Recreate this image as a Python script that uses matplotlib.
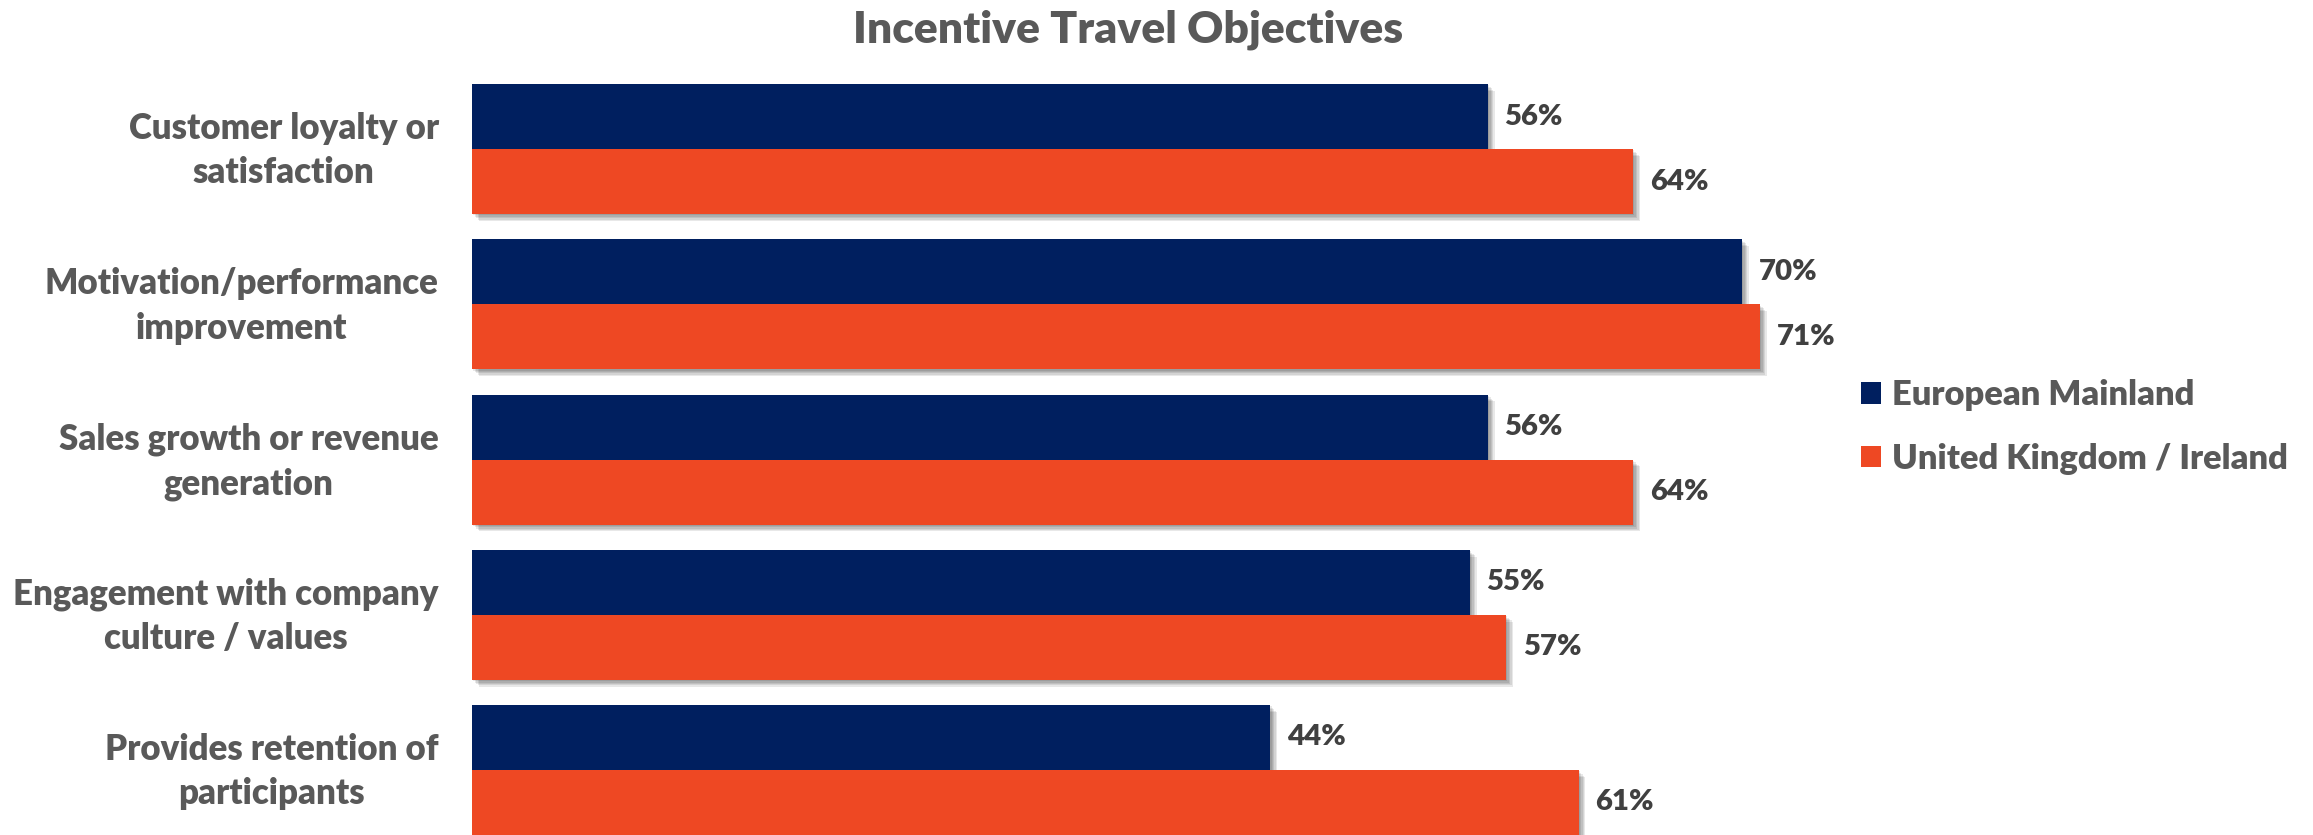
import matplotlib
matplotlib.use("Agg")
import matplotlib.pyplot as plt
from matplotlib import patheffects
from matplotlib.patches import Patch
from matplotlib.transforms import ScaledTranslation

# Survey data: share of respondents citing each objective
categories = [
    "Customer loyalty or\nsatisfaction",
    "Motivation/performance\nimprovement",
    "Sales growth or revenue\ngeneration",
    "Engagement with company\nculture / values",
    "Provides retention of\nparticipants",
]
european_mainland = [56, 70, 56, 55, 44]
uk_ireland = [64, 71, 64, 57, 61]
series_names = ["European Mainland", "United Kingdom / Ireland"]

NAVY = "#001F5F"
ORANGE = "#EE4823"
TEXT_GRAY = "#595959"
VALUE_GRAY = "#404040"
WEIGHT = "heavy"

plt.rcParams["font.family"] = ["Lato", "DejaVu Sans"]

W, H, DPI = 2313, 835, 100
fig = plt.figure(figsize=(W / DPI, H / DPI), dpi=DPI)
fig.patch.set_facecolor("white")

# axes geometry in pixels
ax_left, ax_right = 472, 2286
ax_top_px = 71.4
ax = fig.add_axes([ax_left / W, 0.0, (ax_right - ax_left) / W, 1 - ax_top_px / H])

bar_h = 0.4187
pos = list(range(len(categories)))

# soft drop shadow under each bar
shadow = [
    patheffects.SimplePatchShadow(offset=(d, -d), shadow_rgbFace="black", alpha=0.09)
    for d in (1.0, 2.0, 3.0, 4.0, 5.0)
] + [patheffects.Normal()]

bars_eu = ax.barh([p - bar_h / 2 for p in pos], european_mainland, height=bar_h,
                  color=NAVY, linewidth=0, zorder=2)
bars_uk = ax.barh([p + bar_h / 2 for p in pos], uk_ireland, height=bar_h,
                  color=ORANGE, linewidth=0, zorder=3)
for b in list(bars_eu) + list(bars_uk):
    b.set_path_effects(shadow)

# value labels at the end of each bar
for bars, vals in ((bars_eu, european_mainland), (bars_uk, uk_ireland)):
    for b, v in zip(bars, vals):
        ax.annotate(f"{v}%", xy=(v, b.get_y() + b.get_height() / 2),
                    xytext=(12, 0), textcoords="offset points",
                    ha="left", va="center", fontsize=21.2, fontweight=WEIGHT,
                    color=VALUE_GRAY, zorder=5)

ax.set_xlim(0, 100)
ax.set_ylim(4 + bar_h, -0.5)
ax.set_yticks(pos)
ax.tick_params(axis="y", length=0, pad=24)
ax.set_yticklabels(categories, fontsize=25, fontweight=WEIGHT, color=TEXT_GRAY,
                   linespacing=1.42)
# nudge the two-line category labels up a little
lift = ScaledTranslation(0, 5 / 72, fig.dpi_scale_trans)
for lab in ax.get_yticklabels():
    lab.set_multialignment("center")
    lab.set_transform(lab.get_transform() + lift)
ax.set_xticks([])
for s in ax.spines.values():
    s.set_visible(False)
ax.set_facecolor("none")

fig.text(1128 / W, 1 - 43 / H, "Incentive Travel Objectives", ha="center",
         va="baseline", fontsize=32, fontweight=WEIGHT, color=TEXT_GRAY)

handles = [Patch(facecolor=NAVY, edgecolor="none"),
           Patch(facecolor=ORANGE, edgecolor="none")]
leg = fig.legend(handles, series_names, loc="center left",
                 bbox_to_anchor=(1861 / W, 1 - 427 / H), frameon=False,
                 fontsize=24.8, handlelength=0.58, handleheight=0.58,
                 handletextpad=0.32, labelspacing=0.91, borderpad=0,
                 borderaxespad=0)
for t in leg.get_texts():
    t.set_color(TEXT_GRAY)
    t.set_fontweight(WEIGHT)

fig.savefig("out.png", dpi=DPI, facecolor="white")
